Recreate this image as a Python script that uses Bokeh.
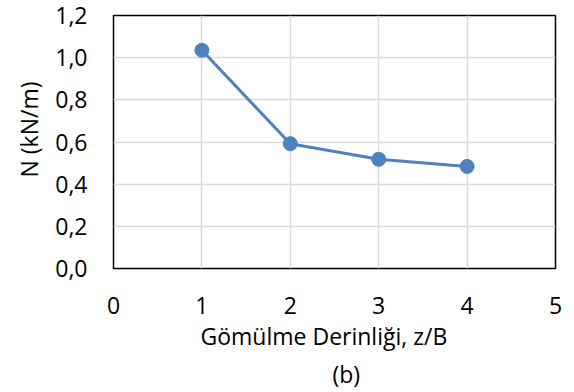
from bokeh.plotting import figure
from bokeh.models import Range1d, FixedTicker, CustomJSTickFormatter, Title
from bokeh.embed import file_html
from bokeh.resources import INLINE

# data
depth = [1, 2, 3, 4]
force = [1.035, 0.592, 0.518, 0.484]
x_ticks = [0, 1, 2, 3, 4, 5]
y_ticks = [0, 0.2, 0.4, 0.6, 0.8, 1.0, 1.2]
x_title = "Gömülme Derinliği, z/B"
y_title = "N (kN/m)"
caption = "(b)"

FONT = "Open Sans"
FS = "23px"
BLUE = "#4f81bd"

p = figure(width=574, height=392, output_backend="svg", toolbar_location=None,
           x_range=Range1d(0, 5), y_range=Range1d(0, 1.2),
           min_border_left=113, min_border_right=19, min_border_top=15, min_border_bottom=124)
p.background_fill_color = "white"
p.border_fill_color = "white"
p.outline_line_color = "black"
p.outline_line_width = 1.5

for ax in (p.xaxis[0], p.yaxis[0]):
    ax.axis_line_color = None
    ax.major_tick_line_color = None
    ax.minor_tick_line_color = None
    ax.major_tick_out = 0
    ax.major_tick_in = 0
    ax.minor_tick_out = 0
    ax.major_label_text_font = FONT
    ax.major_label_text_font_size = FS
    ax.major_label_text_color = "black"

p.xaxis[0].ticker = FixedTicker(ticks=x_ticks)
p.yaxis[0].ticker = FixedTicker(ticks=y_ticks)
p.yaxis[0].formatter = CustomJSTickFormatter(code="return tick.toFixed(1).replace('.', ',');")
p.xaxis[0].major_label_standoff = 28
p.yaxis[0].major_label_standoff = 26

p.grid.grid_line_color = "#d9d9d9"
p.grid.grid_line_width = 1.5
p.xgrid.ticker = FixedTicker(ticks=x_ticks)
p.ygrid.ticker = FixedTicker(ticks=y_ticks)

p.line(depth, force, line_width=3, color=BLUE)
p.scatter(depth, force, size=14, color=BLUE)

def title(text, side, offset, standoff):
    p.add_layout(Title(text=text, align="left", offset=offset, text_font=FONT, text_font_size=FS,
                       text_font_style="normal", text_color="black", standoff=standoff), side)

title(y_title, "left", 91, 16)
title(x_title, "below", 87, 3)
title(caption, "below", 219, 5)

open("out.html", "w").write(file_html(p, INLINE))
